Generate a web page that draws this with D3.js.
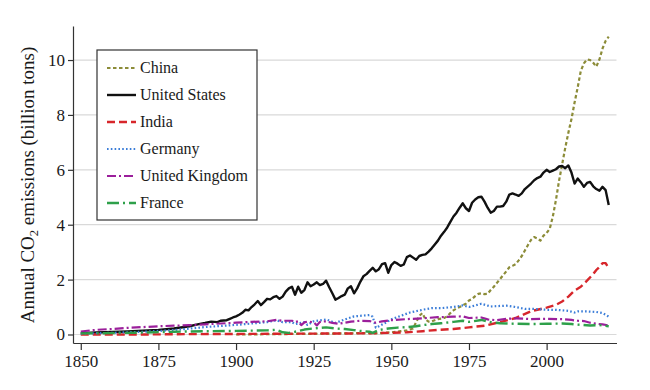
<!DOCTYPE html>
<html>
<head>
<meta charset="utf-8">
<script src="https://cdn.jsdelivr.net/npm/d3@7"></script>
<style>
  body { margin: 0; background: #fff; }
  svg { display: block; font-family: "Liberation Serif", "Times New Roman", serif; }
</style>
</head>
<body>
<svg id="chart" width="650" height="390"></svg>
<script>
// [year, billion tons]
const china = [
  [1900, 0.0], [1910, 0.01], [1920, 0.02], [1930, 0.03], [1940, 0.05], [1945, 0.04],
  [1950, 0.08], [1953, 0.12], [1955, 0.15], [1957, 0.22], [1958, 0.45], [1959, 0.68],
  [1960, 0.78], [1961, 0.55], [1962, 0.47], [1963, 0.48], [1965, 0.56], [1967, 0.6],
  [1968, 0.66], [1969, 0.78], [1970, 0.88], [1971, 0.95], [1972, 1.0], [1973, 1.06],
  [1974, 1.12], [1975, 1.24], [1976, 1.3], [1977, 1.4], [1978, 1.48], [1979, 1.5],
  [1980, 1.47], [1981, 1.48], [1982, 1.62], [1983, 1.74], [1984, 1.88], [1985, 2.02],
  [1986, 2.16], [1987, 2.3], [1988, 2.45], [1989, 2.5], [1990, 2.56], [1991, 2.7],
  [1992, 2.86], [1993, 3.06], [1994, 3.26], [1995, 3.45], [1996, 3.55], [1997, 3.5],
  [1998, 3.42], [1999, 3.6], [2000, 3.7], [2001, 3.85], [2002, 4.3], [2003, 4.9],
  [2004, 5.6], [2005, 6.2], [2006, 6.8], [2007, 7.35], [2008, 7.85], [2009, 8.45],
  [2010, 9.0], [2011, 9.6], [2012, 9.88], [2013, 10.02], [2014, 10.0], [2015, 9.9],
  [2016, 9.76], [2017, 10.02], [2018, 10.42], [2019, 10.7], [2020, 10.85]
];

const unitedStates = [
  [1850, 0.05], [1855, 0.07], [1860, 0.09], [1865, 0.11], [1870, 0.14], [1875, 0.17],
  [1880, 0.22], [1885, 0.3], [1888, 0.38], [1890, 0.42], [1892, 0.47], [1894, 0.45],
  [1895, 0.5], [1897, 0.52], [1898, 0.57], [1899, 0.62], [1900, 0.66], [1901, 0.72],
  [1902, 0.79], [1903, 0.9], [1904, 0.88], [1905, 1.0], [1906, 1.1], [1907, 1.22],
  [1908, 1.07], [1909, 1.18], [1910, 1.3], [1911, 1.28], [1912, 1.36], [1913, 1.4],
  [1914, 1.3], [1915, 1.38], [1916, 1.56], [1917, 1.68], [1918, 1.74], [1919, 1.45],
  [1920, 1.74], [1921, 1.52], [1922, 1.62], [1923, 1.9], [1924, 1.76], [1925, 1.82],
  [1926, 1.9], [1927, 1.8], [1928, 1.84], [1929, 1.96], [1930, 1.72], [1931, 1.5],
  [1932, 1.27], [1933, 1.33], [1934, 1.4], [1935, 1.45], [1936, 1.68], [1937, 1.76],
  [1938, 1.5], [1939, 1.68], [1940, 1.92], [1941, 2.12], [1942, 2.2], [1943, 2.32],
  [1944, 2.43], [1945, 2.3], [1946, 2.38], [1947, 2.56], [1948, 2.6], [1949, 2.25],
  [1950, 2.53], [1951, 2.64], [1952, 2.58], [1953, 2.5], [1954, 2.55], [1955, 2.82],
  [1956, 2.88], [1957, 2.8], [1958, 2.72], [1959, 2.86], [1960, 2.9], [1961, 2.92],
  [1962, 3.02], [1963, 3.14], [1964, 3.28], [1965, 3.42], [1966, 3.6], [1967, 3.74],
  [1968, 3.9], [1969, 4.1], [1970, 4.3], [1971, 4.44], [1972, 4.62], [1973, 4.78],
  [1974, 4.6], [1975, 4.5], [1976, 4.8], [1977, 4.92], [1978, 5.0], [1979, 5.02],
  [1980, 4.84], [1981, 4.62], [1982, 4.44], [1983, 4.5], [1984, 4.66], [1985, 4.66],
  [1986, 4.68], [1987, 4.84], [1988, 5.1], [1989, 5.14], [1990, 5.1], [1991, 5.05],
  [1992, 5.14], [1993, 5.3], [1994, 5.4], [1995, 5.5], [1996, 5.62], [1997, 5.7],
  [1998, 5.75], [1999, 5.9], [2000, 6.0], [2001, 5.92], [2002, 5.97], [2003, 6.02],
  [2004, 6.12], [2005, 6.14], [2006, 6.06], [2007, 6.16], [2008, 5.9], [2009, 5.5],
  [2010, 5.68], [2011, 5.55], [2012, 5.38], [2013, 5.52], [2014, 5.56], [2015, 5.4],
  [2016, 5.3], [2017, 5.24], [2018, 5.38], [2019, 5.26], [2020, 4.72]
];

const india = [
  [1850, 0.0], [1870, 0.0], [1880, 0.01], [1900, 0.02], [1920, 0.03], [1940, 0.04],
  [1950, 0.06], [1955, 0.08], [1960, 0.12], [1965, 0.17], [1970, 0.2], [1975, 0.26],
  [1980, 0.32], [1985, 0.45], [1990, 0.6], [1995, 0.85], [2000, 0.98], [2003, 1.08],
  [2005, 1.2], [2007, 1.38], [2009, 1.6], [2011, 1.74], [2013, 1.96], [2015, 2.2],
  [2016, 2.35], [2017, 2.46], [2018, 2.6], [2019, 2.6], [2020, 2.42]
];

const germany = [
  [1850, 0.03], [1860, 0.06], [1870, 0.1], [1880, 0.16], [1890, 0.27], [1900, 0.35],
  [1905, 0.4], [1910, 0.45], [1913, 0.52], [1915, 0.45], [1918, 0.45], [1919, 0.38],
  [1922, 0.45], [1923, 0.35], [1925, 0.48], [1929, 0.55], [1932, 0.42], [1935, 0.55],
  [1938, 0.66], [1940, 0.68], [1943, 0.71], [1944, 0.65], [1945, 0.25], [1946, 0.3],
  [1948, 0.42], [1950, 0.55], [1953, 0.68], [1956, 0.8], [1960, 0.9], [1963, 0.96],
  [1966, 0.96], [1970, 1.0], [1973, 1.06], [1975, 1.0], [1979, 1.12], [1982, 1.02],
  [1985, 1.04], [1987, 1.05], [1989, 1.02], [1991, 0.98], [1993, 0.93], [1996, 0.93],
  [2000, 0.9], [2003, 0.9], [2007, 0.86], [2009, 0.8], [2010, 0.84], [2013, 0.84],
  [2016, 0.82], [2018, 0.78], [2019, 0.72], [2020, 0.65]
];

const unitedKingdom = [
  [1850, 0.11], [1855, 0.17], [1860, 0.2], [1865, 0.24], [1870, 0.27], [1875, 0.3],
  [1880, 0.32], [1885, 0.34], [1890, 0.37], [1895, 0.4], [1900, 0.43], [1905, 0.46],
  [1910, 0.48], [1913, 0.53], [1915, 0.5], [1918, 0.5], [1919, 0.45], [1920, 0.48],
  [1921, 0.34], [1922, 0.44], [1923, 0.47], [1925, 0.45], [1926, 0.33], [1927, 0.46],
  [1929, 0.48], [1931, 0.42], [1933, 0.39], [1935, 0.43], [1937, 0.47], [1940, 0.5],
  [1943, 0.49], [1945, 0.43], [1947, 0.48], [1950, 0.52], [1955, 0.56], [1960, 0.59],
  [1965, 0.63], [1970, 0.65], [1973, 0.66], [1975, 0.6], [1979, 0.62], [1981, 0.55],
  [1984, 0.52], [1987, 0.57], [1990, 0.59], [1995, 0.56], [2000, 0.57], [2005, 0.56],
  [2008, 0.53], [2010, 0.5], [2012, 0.49], [2014, 0.43], [2016, 0.39], [2018, 0.37],
  [2020, 0.33]
];

const france = [
  [1850, 0.04], [1860, 0.05], [1870, 0.07], [1880, 0.1], [1890, 0.12], [1900, 0.13],
  [1910, 0.15], [1913, 0.17], [1915, 0.08], [1917, 0.06], [1919, 0.1], [1922, 0.18],
  [1925, 0.22], [1929, 0.26], [1932, 0.22], [1935, 0.2], [1938, 0.16], [1940, 0.13],
  [1943, 0.1], [1944, 0.06], [1946, 0.16], [1949, 0.22], [1952, 0.25], [1955, 0.27],
  [1958, 0.3], [1960, 0.34], [1963, 0.38], [1966, 0.41], [1970, 0.46], [1973, 0.5],
  [1975, 0.46], [1979, 0.53], [1982, 0.45], [1985, 0.41], [1990, 0.39], [1995, 0.38],
  [2000, 0.39], [2005, 0.4], [2008, 0.38], [2010, 0.36], [2014, 0.33], [2017, 0.34],
  [2020, 0.3]
];

const xTicks = [1850, 1875, 1900, 1925, 1950, 1975, 2000];
const yTicks = [0, 2, 4, 6, 8, 10];

const series = [
  { name: 'China', values: china, color: '#8c8c38', width: 2.2, dash: '3.5,2.5' },
  { name: 'United States', values: unitedStates, color: '#111111', width: 2.4, dash: null },
  { name: 'India', values: india, color: '#d7262b', width: 2.4, dash: '8,4' },
  { name: 'Germany', values: germany, color: '#3b7dd8', width: 2.2, dash: '1.6,2.2' },
  { name: 'United Kingdom', values: unitedKingdom, color: '#9b1f9b', width: 2.2, dash: '9,3,2,3' },
  { name: 'France', values: france, color: '#2ea04a', width: 2.4, dash: '12,4,2,4' }
];

const svg = d3.select('#chart');

const x = d3.scaleLinear().domain([1847.5, 2022.5]).range([73, 616.5]);
const y = d3.scaleLinear().domain([-0.31, 11.24]).range([343, 26]);

// gridlines
svg.append('g')
  .attr('stroke', '#d9d9d9')
  .attr('stroke-width', 1.2)
  .selectAll()
  .data(yTicks)
  .join('line')
    .attr('x1', x.range()[0])
    .attr('x2', x.range()[1])
    .attr('y1', d => y(d))
    .attr('y2', d => y(d));

const xAxis = svg.append('g')
  .attr('transform', `translate(0, ${y.range()[0]})`)
  .call(d3.axisBottom(x).tickValues(xTicks).tickFormat(d3.format('d'))
    .tickSize(7).tickSizeOuter(0).tickPadding(5));

const yAxis = svg.append('g')
  .attr('transform', `translate(${x.range()[0]}, 0)`)
  .call(d3.axisLeft(y).tickValues(yTicks).tickSize(5).tickSizeOuter(0).tickPadding(3));

[xAxis, yAxis].forEach(axis => {
  axis.selectAll('text')
    .attr('font-family', '"Liberation Serif", serif')
    .attr('font-size', 17)
    .attr('fill', '#1a1a1a');
  axis.selectAll('line, path').attr('stroke', '#333').attr('stroke-width', 1.2);
});

svg.append('text')
  .attr('transform', `translate(34, 185) rotate(-90)`)
  .attr('text-anchor', 'middle')
  .attr('font-size', 19)
  .attr('fill', '#1a1a1a')
  .call(t => {
    t.append('tspan').text('Annual CO');
    t.append('tspan').attr('font-size', 12.5).attr('dy', 4).text('2');
    t.append('tspan').attr('dy', -4).text(' emissions (billion tons)');
  });

const line = d3.line()
  .x(d => x(d[0]))
  .y(d => y(d[1]));

svg.append('g')
  .attr('fill', 'none')
  .attr('stroke-linejoin', 'round')
  .selectAll()
  .data(series)
  .join('path')
    .attr('stroke', d => d.color)
    .attr('stroke-width', d => d.width)
    .attr('stroke-dasharray', d => d.dash)
    .attr('d', d => line(d.values));

// legend
const legend = svg.append('g').attr('transform', 'translate(97, 50)');

legend.append('rect')
  .attr('width', 160)
  .attr('height', 170)
  .attr('fill', '#fff')
  .attr('stroke', '#333')
  .attr('stroke-width', 1.2);

const legendRow = legend.selectAll('.row')
  .data(series)
  .join('g')
    .attr('class', 'row')
    .attr('transform', (d, i) => `translate(0, ${18 + i * 27})`);

legendRow.append('line')
  .attr('x1', 10)
  .attr('x2', 39)
  .attr('stroke', d => d.color)
  .attr('stroke-width', d => d.width)
  .attr('stroke-dasharray', d => d.dash);

legendRow.append('text')
  .attr('x', 43)
  .attr('dy', '0.33em')
  .attr('font-size', 16)
  .attr('fill', '#1a1a1a')
  .text(d => d.name);
</script>
</body>
</html>
